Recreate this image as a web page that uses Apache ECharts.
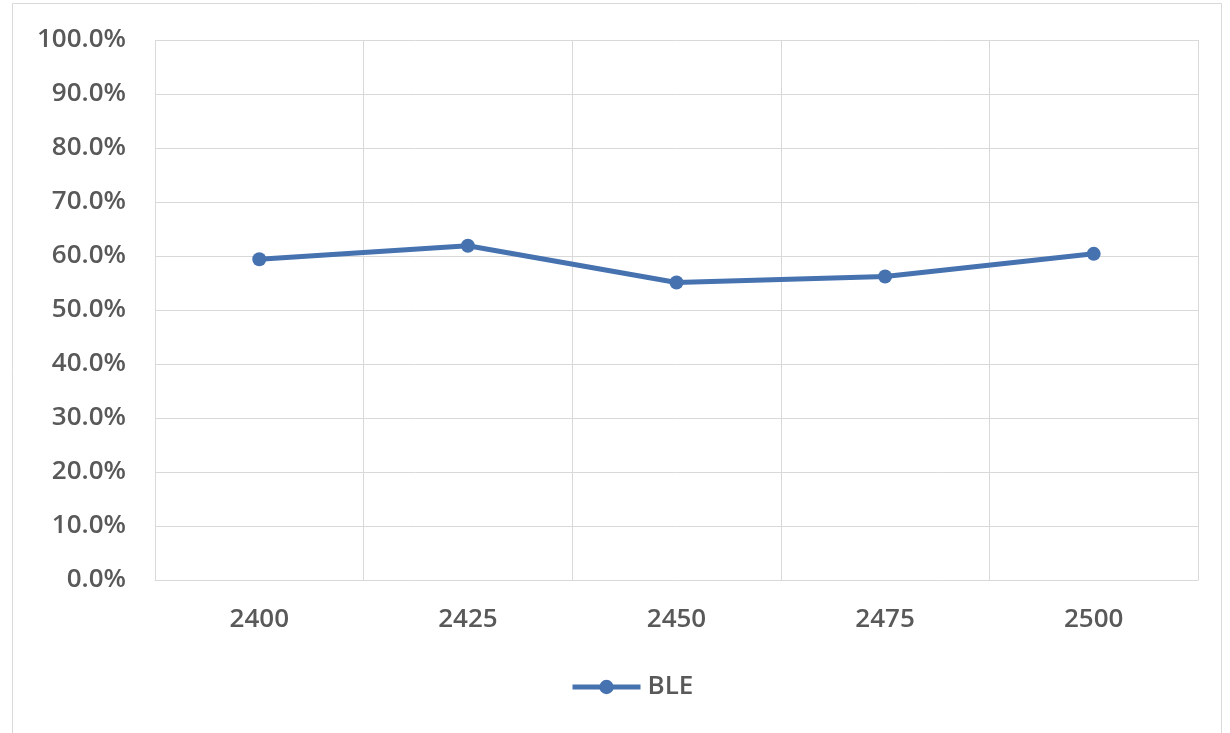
<!DOCTYPE html>
<html>
<head>
<meta charset="utf-8">
<script src="https://cdn.jsdelivr.net/npm/echarts@6/dist/echarts.min.js"></script>
<style>
html,body{margin:0;padding:0;background:#fff;}
#c{width:1230px;height:733px;}
</style>
</head>
<body>
<div id="c"></div>
<script>
var categories = ['2400', '2425', '2450', '2475', '2500'];
var bleValues = [59.4, 61.9, 55.1, 56.2, 60.4];
var seriesName = 'BLE';

var chart = echarts.init(document.getElementById('c'), null, {renderer: 'canvas'});
var labelFont = {fontFamily: 'Open Sans', fontSize: 26, fontWeight: 600, color: '#595959'};
chart.setOption({
  animation: false,
  backgroundColor: '#fff',
  graphic: [{
    type: 'rect',
    shape: {x: 12.5, y: 3.5, width: 1209, height: 740},
    style: {fill: 'none', stroke: '#d9d9d9', lineWidth: 1},
    silent: true,
    z: -10
  }],
  grid: {left: 155, right: 32, top: 40, bottom: 153, containLabel: false},
  legend: {
    data: [seriesName],
    bottom: 28,
    left: 565,
    itemWidth: 68,
    itemHeight: 18,
    itemGap: 10,
    lineStyle: {width: 5},
    textStyle: Object.assign({padding: [0, 0, 0, 2]}, labelFont)
  },
  xAxis: {
    type: 'category',
    data: categories,
    boundaryGap: true,
    axisLine: {show: true, lineStyle: {color: '#d9d9d9', width: 1}},
    axisTick: {show: false},
    splitLine: {show: true, lineStyle: {color: '#d9d9d9', width: 1}},
    axisLabel: Object.assign({margin: 27}, labelFont)
  },
  yAxis: {
    type: 'value',
    min: 0,
    max: 100,
    interval: 10,
    axisLine: {show: false},
    axisTick: {show: false},
    splitLine: {show: true, lineStyle: {color: '#d9d9d9', width: 1}},
    axisLabel: Object.assign({margin: 29, formatter: function (v) { return v.toFixed(1) + '%'; }}, labelFont)
  },
  series: [{
    name: seriesName,
    type: 'line',
    data: bleValues,
    symbol: 'circle',
    symbolSize: 14,
    lineStyle: {color: '#4672b0', width: 5},
    itemStyle: {color: '#4672b0'}
  }]
});
</script>
</body>
</html>
